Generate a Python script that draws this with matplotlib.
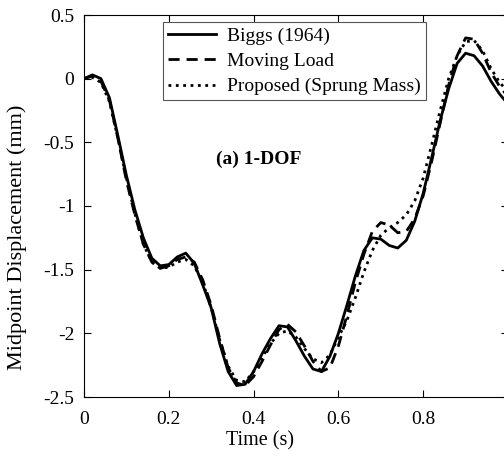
import numpy as np
import matplotlib
matplotlib.use('Agg')
import matplotlib.pyplot as plt

plt.rcParams['font.family'] = ['Liberation Serif', 'DejaVu Serif']

# time axis (s)
t = [0.00, 0.02, 0.04, 0.06, 0.08, 0.10, 0.12, 0.14, 0.16, 0.18,
     0.20, 0.22, 0.24, 0.26, 0.28, 0.30, 0.32, 0.34, 0.36, 0.38,
     0.40, 0.42, 0.44, 0.46, 0.48, 0.50, 0.52, 0.54, 0.56, 0.58,
     0.60, 0.62, 0.64, 0.66, 0.68, 0.70, 0.72, 0.74, 0.76, 0.78,
     0.80, 0.82, 0.84, 0.86, 0.88, 0.90, 0.92, 0.94, 0.96, 0.98, 1.00]

# midpoint displacement (mm)
biggs = [0.00, 0.03, 0.00, -0.15, -0.45, -0.76, -1.03, -1.25, -1.41, -1.47,
         -1.46, -1.40, -1.37, -1.45, -1.62, -1.80, -2.08, -2.30, -2.41, -2.40,
         -2.30, -2.16, -2.04, -1.94, -1.95, -2.06, -2.18, -2.28, -2.30, -2.18,
         -2.00, -1.78, -1.55, -1.35, -1.25, -1.26, -1.31, -1.33, -1.27, -1.12,
         -0.90, -0.62, -0.33, -0.08, 0.12, 0.20, 0.18, 0.10, -0.02, -0.12, -0.20]

moving = [0.00, 0.02, -0.02, -0.17, -0.47, -0.80, -1.07, -1.30, -1.44, -1.49,
          -1.47, -1.42, -1.40, -1.44, -1.58, -1.78, -2.04, -2.27, -2.39, -2.41,
          -2.34, -2.22, -2.09, -1.97, -1.93, -1.99, -2.10, -2.22, -2.30, -2.27,
          -2.10, -1.86, -1.60, -1.38, -1.20, -1.13, -1.15, -1.21, -1.20, -1.10,
          -0.92, -0.65, -0.35, -0.05, 0.18, 0.32, 0.31, 0.20, 0.05, -0.06, -0.14]

proposed = [0.00, 0.01, -0.03, -0.18, -0.47, -0.78, -1.06, -1.30, -1.44, -1.49,
            -1.48, -1.44, -1.42, -1.47, -1.60, -1.80, -2.05, -2.26, -2.37, -2.38,
            -2.30, -2.19, -2.08, -2.00, -1.98, -2.03, -2.12, -2.20, -2.23, -2.17,
            -2.03, -1.90, -1.72, -1.52, -1.35, -1.23, -1.17, -1.13, -1.07, -0.96,
            -0.78, -0.52, -0.25, 0.00, 0.18, 0.29, 0.30, 0.22, 0.08, -0.03, -0.10]

xticks = [0, 0.2, 0.4, 0.6, 0.8, 1.0]
xtick_labels = ['0', '0.2', '0.4', '0.6', '0.8', '']
yticks = [-2.5, -2, -1.5, -1, -0.5, 0, 0.5]
ytick_labels = ['-2.5', '-2', '-1.5', '-1', '-0.5', '0', '0.5']

fig = plt.figure(figsize=(5.04, 4.57), dpi=100)
ax = fig.add_axes([84 / 504, 60 / 457, 424 / 504, 382 / 457])

ax.plot(t, biggs, '-', color='black', lw=2.0, label='Biggs (1964)')
ax.plot(t, moving, '--', color='black', lw=2.0, dashes=(4, 2.5), label='Moving Load')
ax.plot(t, proposed, ':', color='black', lw=2.0, label='Proposed (Sprung Mass)')

ax.set_xlim(0, 1)
ax.set_ylim(-2.5, 0.5)
ax.set_xticks(xticks)
ax.set_xticklabels(xtick_labels)
ax.set_yticks(yticks)
ax.set_yticklabels(ytick_labels)
ax.tick_params(direction='in', top=True, right=True, labelsize=14, length=5, width=0.8)
ax.tick_params(axis='x', pad=10)
ax.tick_params(axis='y', pad=7)
for s in ax.spines.values():
    s.set_linewidth(0.8)

ax.set_xlabel('Time (s)', fontsize=14.5)
ax.xaxis.set_label_coords(176 / 424, -34 / 382)
ax.set_ylabel('Midpoint Displacement (mm)', fontsize=16)
ax.yaxis.set_label_coords(-57 / 424, 160 / 382)

ax.text(0.413, -0.63, '(a) 1-DOF', fontsize=14, fontweight='bold', ha='center', va='center')

leg = ax.legend(loc='upper left', bbox_to_anchor=((163 - 84) / 424, 1 - 7 / 382),
                fontsize=14, handlelength=2.5, handletextpad=0.55, borderpad=0.25,
                labelspacing=0.4, borderaxespad=0, fancybox=False, framealpha=1)
leg.get_frame().set_edgecolor('#555555')
leg.get_frame().set_linewidth(0.8)

fig.savefig('out.png', dpi=100)
